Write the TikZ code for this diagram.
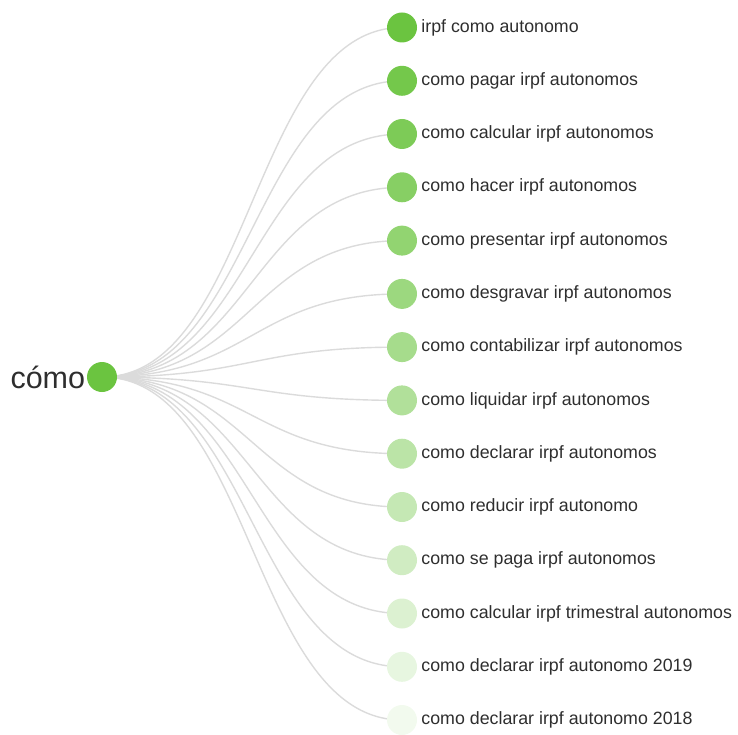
\documentclass[tikz,border=0pt]{standalone}
\usepackage{fontspec}
\setmainfont{Liberation Sans}
\usetikzlibrary{backgrounds}

\definecolor{leafgreen}{rgb}{0.42, 0.77, 0.25}
\definecolor{linkgray}{rgb}{0.86, 0.86, 0.86}
\definecolor{textgray}{rgb}{0.18, 0.18, 0.18}

\tikzset{
	dot/.style={circle, inner sep=0pt, minimum size=30pt},
	leaf/.style={dot, label={[text=textgray, inner sep=0pt, label distance=4pt, font=\fontsize{17.8}{20}\selectfont]right:#1}},
	link/.style={draw=linkgray, line width=1.4pt, out=0, in=180, distance=150pt}
}

\begin{document}
\begin{tikzpicture}[x=1pt,y=1pt,yscale=-1,xscale=1]
		% Set diagram size to 738 x 735
		\useasboundingbox (0,0) rectangle (738,735);

		% The root node "cómo"
		\node[dot, fill=leafgreen, label={[text=textgray, inner sep=0pt, label distance=1.5pt, font=\fontsize{30.5}{34}\selectfont]left:cómo}] (root) at (102,377) {};

		% The leaves, fading from green to white
		\node[leaf={irpf como autonomo}, fill=leafgreen!100!white] (l1) at (402,27.5) {};
		\node[leaf={como pagar irpf autonomos}, fill=leafgreen!94!white] (l2) at (402,80.8) {};
		\node[leaf={como calcular irpf autonomos}, fill=leafgreen!88!white] (l3) at (402,134) {};
		\node[leaf={como hacer irpf autonomos}, fill=leafgreen!81!white] (l4) at (402,187.3) {};
		\node[leaf={como presentar irpf autonomos}, fill=leafgreen!74!white] (l5) at (402,240.6) {};
		\node[leaf={como desgravar irpf autonomos}, fill=leafgreen!67!white] (l6) at (402,293.9) {};
		\node[leaf={como contabilizar irpf autonomos}, fill=leafgreen!60!white] (l7) at (402,347.1) {};
		\node[leaf={como liquidar irpf autonomos}, fill=leafgreen!53!white] (l8) at (402,400.4) {};
		\node[leaf={como declarar irpf autonomos}, fill=leafgreen!46!white] (l9) at (402,453.7) {};
		\node[leaf={como reducir irpf autonomo}, fill=leafgreen!39!white] (l10) at (402,507) {};
		\node[leaf={como se paga irpf autonomos}, fill=leafgreen!32!white] (l11) at (402,560.2) {};
		\node[leaf={como calcular irpf trimestral autonomos}, fill=leafgreen!24!white] (l12) at (402,613.5) {};
		\node[leaf={como declarar irpf autonomo 2019}, fill=leafgreen!16!white] (l13) at (402,666.8) {};
		\node[leaf={como declarar irpf autonomo 2018}, fill=leafgreen!9!white] (l14) at (402,720) {};

		% The curved links from the root to each leaf, behind the dots
		\begin{scope}[on background layer]
		\path[link] (root.center) to (l1.center);
		\path[link] (root.center) to (l2.center);
		\path[link] (root.center) to (l3.center);
		\path[link] (root.center) to (l4.center);
		\path[link] (root.center) to (l5.center);
		\path[link] (root.center) to (l6.center);
		\path[link] (root.center) to (l7.center);
		\path[link] (root.center) to (l8.center);
		\path[link] (root.center) to (l9.center);
		\path[link] (root.center) to (l10.center);
		\path[link] (root.center) to (l11.center);
		\path[link] (root.center) to (l12.center);
		\path[link] (root.center) to (l13.center);
		\path[link] (root.center) to (l14.center);
		\end{scope}
	\end{tikzpicture}
\end{document}
